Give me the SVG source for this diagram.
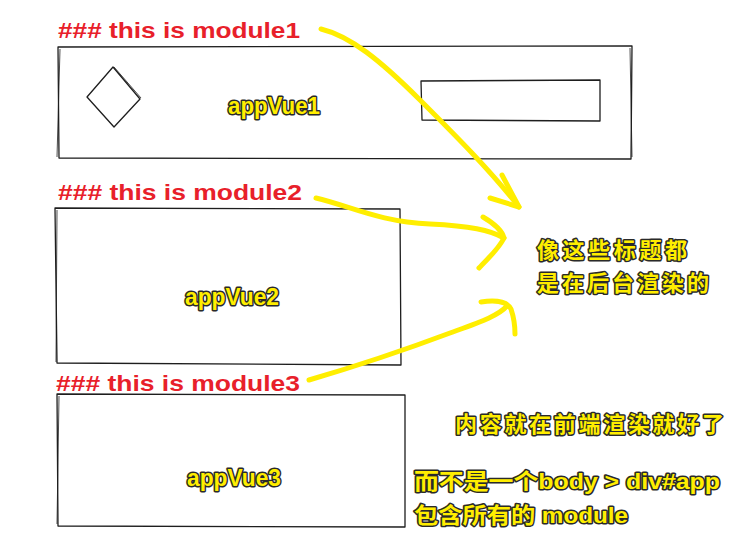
<svg xmlns="http://www.w3.org/2000/svg" width="740" height="545" viewBox="0 0 740 545">
<style>
.bx{fill:#fff;stroke:#1e1e1e;stroke-width:1.3;stroke-linejoin:round}
.sk{fill:none;stroke:#1e1e1e;stroke-width:0.8}
.ttl{font-family:"Liberation Sans","Noto Sans",sans-serif;font-weight:700;font-size:22px;fill:#e8202a;stroke:#fff;stroke-width:4;paint-order:stroke;stroke-linejoin:round}
.lbl{font-family:"Liberation Sans","Noto Sans CJK SC",sans-serif;font-weight:700;font-size:23px;fill:#ffee00;stroke:#2a2a2a;stroke-width:3;paint-order:stroke;stroke-linejoin:round}
.cn{font-family:"Liberation Sans","Noto Sans CJK SC",sans-serif;font-weight:700;font-size:22px;fill:#ffee00;stroke:#2a2a2a;stroke-width:3;paint-order:stroke;stroke-linejoin:round}
.ar{fill:none;stroke:#ffee00;stroke-width:5;stroke-linecap:round;stroke-linejoin:round}
</style>
<rect width="740" height="545" fill="#fff"/>
<g id="module1">
<path class="bx" d="M58,47 L632,46 L631,159 L59,158 Z"/>
<path class="sk" d="M60,49 L57,157 M630,48 L632,157"/>
<path class="bx" d="M113,67 L140,99 L114,127 L87,97 Z"/>
<path class="sk" d="M114,67 L141,98"/>
<path class="bx" d="M421,81 L600,80 L600,121 L422,120 Z"/>
<text class="ttl" x="58" y="38" textLength="242" lengthAdjust="spacingAndGlyphs">### this is module1</text>
<text class="lbl" x="228" y="114" textLength="92" lengthAdjust="spacingAndGlyphs">appVue1</text>
</g>
<g id="module2">
<path class="bx" d="M55,208 L400,209 L401,365 L57,363 Z"/>
<path class="sk" d="M57,210 L56,362"/>
<text class="ttl" x="58" y="200" textLength="244" lengthAdjust="spacingAndGlyphs">### this is module2</text>
<text class="lbl" x="185" y="305" textLength="94" lengthAdjust="spacingAndGlyphs">appVue2</text>
</g>
<g id="module3">
<path class="bx" d="M57,394 L405,395 L405,527 L58,526 Z"/>
<path class="sk" d="M59,396 L57,524"/>
<text class="ttl" x="56" y="391" textLength="244" lengthAdjust="spacingAndGlyphs">### this is module3</text>
<text class="lbl" x="187" y="486" textLength="94" lengthAdjust="spacingAndGlyphs">appVue3</text>
</g>
<g id="note1">
<text class="cn" x="537" y="258" textLength="150" lengthAdjust="spacing">像这些标题都</text>
<text class="cn" x="537" y="291" textLength="172" lengthAdjust="spacing">是在后台渲染的</text>
</g>
<g id="note2">
<text class="cn" x="455" y="432" textLength="269" lengthAdjust="spacing">内容就在前端渲染就好了</text>
<text class="cn" x="414" y="489" textLength="306" lengthAdjust="spacingAndGlyphs">而不是一个body &gt; div#app</text>
<text class="cn" x="414" y="523" textLength="214" lengthAdjust="spacingAndGlyphs">包含所有的 module</text>
</g>
<g id="connectors">
<path class="ar" d="M321,29 C350,36 380,60 420,100 C455,135 490,170 519,207"/>
<path class="ar" d="M490,198 L519,207 L502,175"/>
<path class="ar" d="M316,198 C350,206 380,222 430,224 C470,226 490,230 504,238"/>
<path class="ar" d="M483,217 C495,224 502,230 504,238 C498,250 488,258 479,268"/>
<path class="ar" d="M309,380 C350,368 410,348 450,333 C480,322 498,316 507,306"/>
<path class="ar" d="M481,302 C495,300 507,301 511,309 C514,318 515,326 515,334"/>
</g>
</svg>
